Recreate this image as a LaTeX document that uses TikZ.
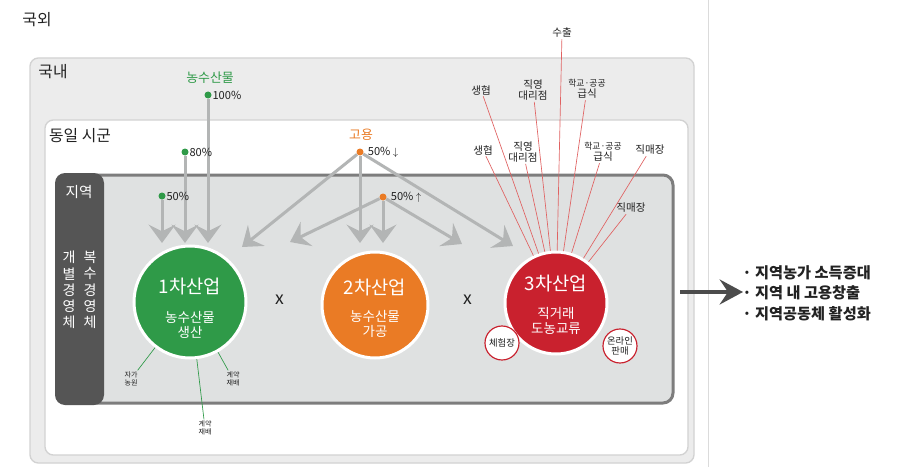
\documentclass[tikz,border=0pt]{standalone}
\usepackage{fontspec}
\setmainfont{Noto Sans CJK KR}
\usepackage{tikz}
\usetikzlibrary{arrows.meta}
\definecolor{outergray}{HTML}{ECECEC}
\definecolor{edgegray}{HTML}{D2D2D2}
\definecolor{zonefill}{HTML}{DFE1E1}
\definecolor{zoneedge}{HTML}{7D7D7D}
\definecolor{bandgray}{HTML}{555555}
\definecolor{flowgray}{HTML}{B3B5B5}
\definecolor{farmgreen}{HTML}{2F9A48}
\definecolor{jobsorange}{HTML}{EA7B25}
\definecolor{shopred}{HTML}{C9212E}
\definecolor{redline}{HTML}{E06262}
\definecolor{inktext}{HTML}{222222}

\begin{document}
\begin{tikzpicture}[x=0.3mm,y=-0.3mm,
    every node/.style={inner sep=1pt, text=inktext},
    flow/.style={draw=flowgray, line width=0.9mm,
        -{Stealth[width=8mm,length=5.5mm,inset=2mm]}},
    industry/.style={circle, fill=#1, draw=white, line width=0.9mm,
        text=white, align=center, inner sep=0pt},
    smallring/.style={circle, fill=white, draw=shopred, line width=0.35mm,
        minimum size=10.2mm, inner sep=0pt, align=center,
        font=\fontsize{8}{8.8}\selectfont},
    dot/.style={circle, fill=#1, minimum size=2.1mm, inner sep=0pt},
    share/.style={right, inner sep=0.5pt, font=\fontsize{9.5}{10}\selectfont},
    shoplabel/.style={align=center, font=\fontsize{9}{9.8}\selectfont},
    farmlabel/.style={align=center, font=\fontsize{6}{7}\selectfont},
    shopline/.style={draw=redline, line width=0.2mm},
    farmline/.style={draw=farmgreen, line width=0.2mm}]
    \useasboundingbox (0,0) rectangle (903,467);

    % regions: abroad, domestic, same county, local
    \draw[edgegray!80, line width=0.3mm] (708,0) -- (708,467);
    \node[font=\fontsize{13.5}{15}\selectfont] (abroad) at (37,20) {국외};
    \draw[fill=outergray, draw=edgegray, line width=0.4mm, rounded corners=2.5mm]
        (30,58) rectangle (694,463);
    \node[font=\fontsize{13.5}{15}\selectfont] (domestic) at (53,72) {국내};
    \draw[fill=white, draw=edgegray, line width=0.4mm, rounded corners=2.5mm]
        (45,120) rectangle (688,455);
    \node[font=\fontsize{13.5}{15}\selectfont] (county) at (80,136) {동일 시군};
    \draw[fill=zonefill, draw=zoneedge, line width=0.9mm, rounded corners=3mm]
        (57,175) rectangle (673,403);
    \draw[fill=bandgray, draw=none, rounded corners=3mm] (55,173) rectangle (104,405);
    \node[text=white, font=\fontsize{12.5}{14}\selectfont] (local) at (79,192) {지역};
    \node[text=white, align=center, font=\fontsize{12}{13.8}\selectfont] (single) at (69,290)
        {개\\별\\경\\영\\체};
    \node[text=white, align=center, font=\fontsize{12}{13.8}\selectfont] (multi) at (90,290)
        {복\\수\\경\\영\\체};

    % produce share
    \node[text=farmgreen, font=\fontsize{11}{12}\selectfont] (produce) at (210,78) {농수산물};
    \node[dot=farmgreen] (g100) at (208,95) {};
    \node[dot=farmgreen] (g80) at (185,152) {};
    \node[dot=farmgreen] (g50) at (162,196) {};
    \coordinate (t100) at (208,243);
    \coordinate (t80) at (185,243);
    \coordinate (t50) at (162,243);
    \draw[flow] (g100) -- (t100);
    \draw[flow] (g80) -- (t80);
    \draw[flow] (g50) -- (t50);
    \node[share] (p100) at (g100.east) {100\%};
    \node[share] (p80) at (g80.east) {80\%};
    \node[share] (p50) at (g50.east) {50\%};

    % employment share
    \node[text=jobsorange, font=\fontsize{11}{12}\selectfont] (jobs) at (361,135) {고용};
    \node[dot=jobsorange] (o1) at (360,152) {};
    \node[dot=jobsorange] (o2) at (383,197) {};
    \coordinate (u1) at (242,247);
    \coordinate (u2) at (360,243);
    \coordinate (u3) at (513,246);
    \coordinate (v1) at (290,242);
    \coordinate (v2) at (383,243);
    \coordinate (v3) at (462,244);
    \draw[flow] (o1) -- (u1);
    \draw[flow] (o1) -- (u2);
    \draw[flow] (o1) -- (u3);
    \draw[flow] (o2) -- (v1);
    \draw[flow] (o2) -- (v2);
    \draw[flow] (o2) -- (v3);
    \node[share] (q1) at ([xshift=1mm]o1.east) {50\% $\downarrow$};
    \node[share] (q2) at ([xshift=1mm]o2.east) {50\% $\uparrow$};

    % the three industries
    \node[industry=farmgreen, minimum size=33.6mm] (ind1) at (190,302) {};
    \node[industry=jobsorange, minimum size=31.8mm] (ind2) at (375,305) {};
    \node[industry=shopred, minimum size=30.6mm] (ind3) at (556,303) {};
    \node[text=white, font=\fontsize{16}{18}\selectfont] (name1) at (190,286) {1차산업};
    \node[text=white, align=center, font=\fontsize{11.5}{13}\selectfont] (job1) at (190,325)
        {농수산물\\생산};
    \node[text=white, font=\fontsize{16}{18}\selectfont] (name2) at (375,287) {2차산업};
    \node[text=white, align=center, font=\fontsize{11.5}{13}\selectfont] (job2) at (375,324)
        {농수산물\\가공};
    \node[text=white, font=\fontsize{16}{18}\selectfont] (name3) at (556,283) {3차산업};
    \node[text=white, align=center, font=\fontsize{11.5}{13}\selectfont] (job3) at (556,321)
        {직거래\\도농교류};
    \node[font=\fontsize{15}{17}\selectfont] (times1) at (280,300) {x};
    \node[font=\fontsize{15}{17}\selectfont] (times2) at (468,300) {x};
    \node[smallring] (farmstay) at (502,343) {체험장};
    \node[smallring] (online) at (620,346) {온라인\\판매};

    % sales channels
    \node[shoplabel] (export) at (562,33) {수출};
    \node[shoplabel] (coop1) at (481,90) {생협};
    \node[shoplabel] (agency1) at (533,90) {직영\\대리점};
    \node[shoplabel] (school1) at (587,89) {{\fontsize{7.5}{8}\selectfont 학교·공공}\\급식};
    \node[shoplabel] (coop2) at (483,150) {생협};
    \node[shoplabel] (agency2) at (523,152) {직영\\대리점};
    \node[shoplabel] (school2) at (603,152) {{\fontsize{7.5}{8}\selectfont 학교·공공}\\급식};
    \node[shoplabel] (store1) at (650,150) {직매장};
    \node[shoplabel] (store2) at (631,208) {직매장};
    \foreach \src in {export,coop1,agency1,school1,coop2,agency2,school2,store1,store2}
        \draw[shopline] (\src) -- (ind3);

    % production ways
    \node[farmlabel] (ownfarm) at (131,379) {자가\\농원};
    \node[farmlabel] (contract1) at (233,379) {계약\\재배};
    \node[farmlabel] (contract2) at (205,428) {계약\\재배};
    \draw[farmline] (ind1) -- (ownfarm);
    \draw[farmline] (ind1) -- (contract1);
    \draw[farmline] (ind1) -- (contract2);

    % effects
    \coordinate (a0) at (680,292);
    \coordinate (a1) at (743,292);
    \draw[draw=bandgray!90!black, line width=1.1mm,
        -{Stealth[width=7.5mm,length=7mm,inset=2.5mm]}] (a0) -- (a1);
    \node[anchor=west, align=left, font=\bfseries\fontsize{13}{17.5}\selectfont] (effects) at (741,293)
        {· 지역농가 소득증대\\· 지역 내 고용창출\\· 지역공동체 활성화};
\end{tikzpicture}
\end{document}
